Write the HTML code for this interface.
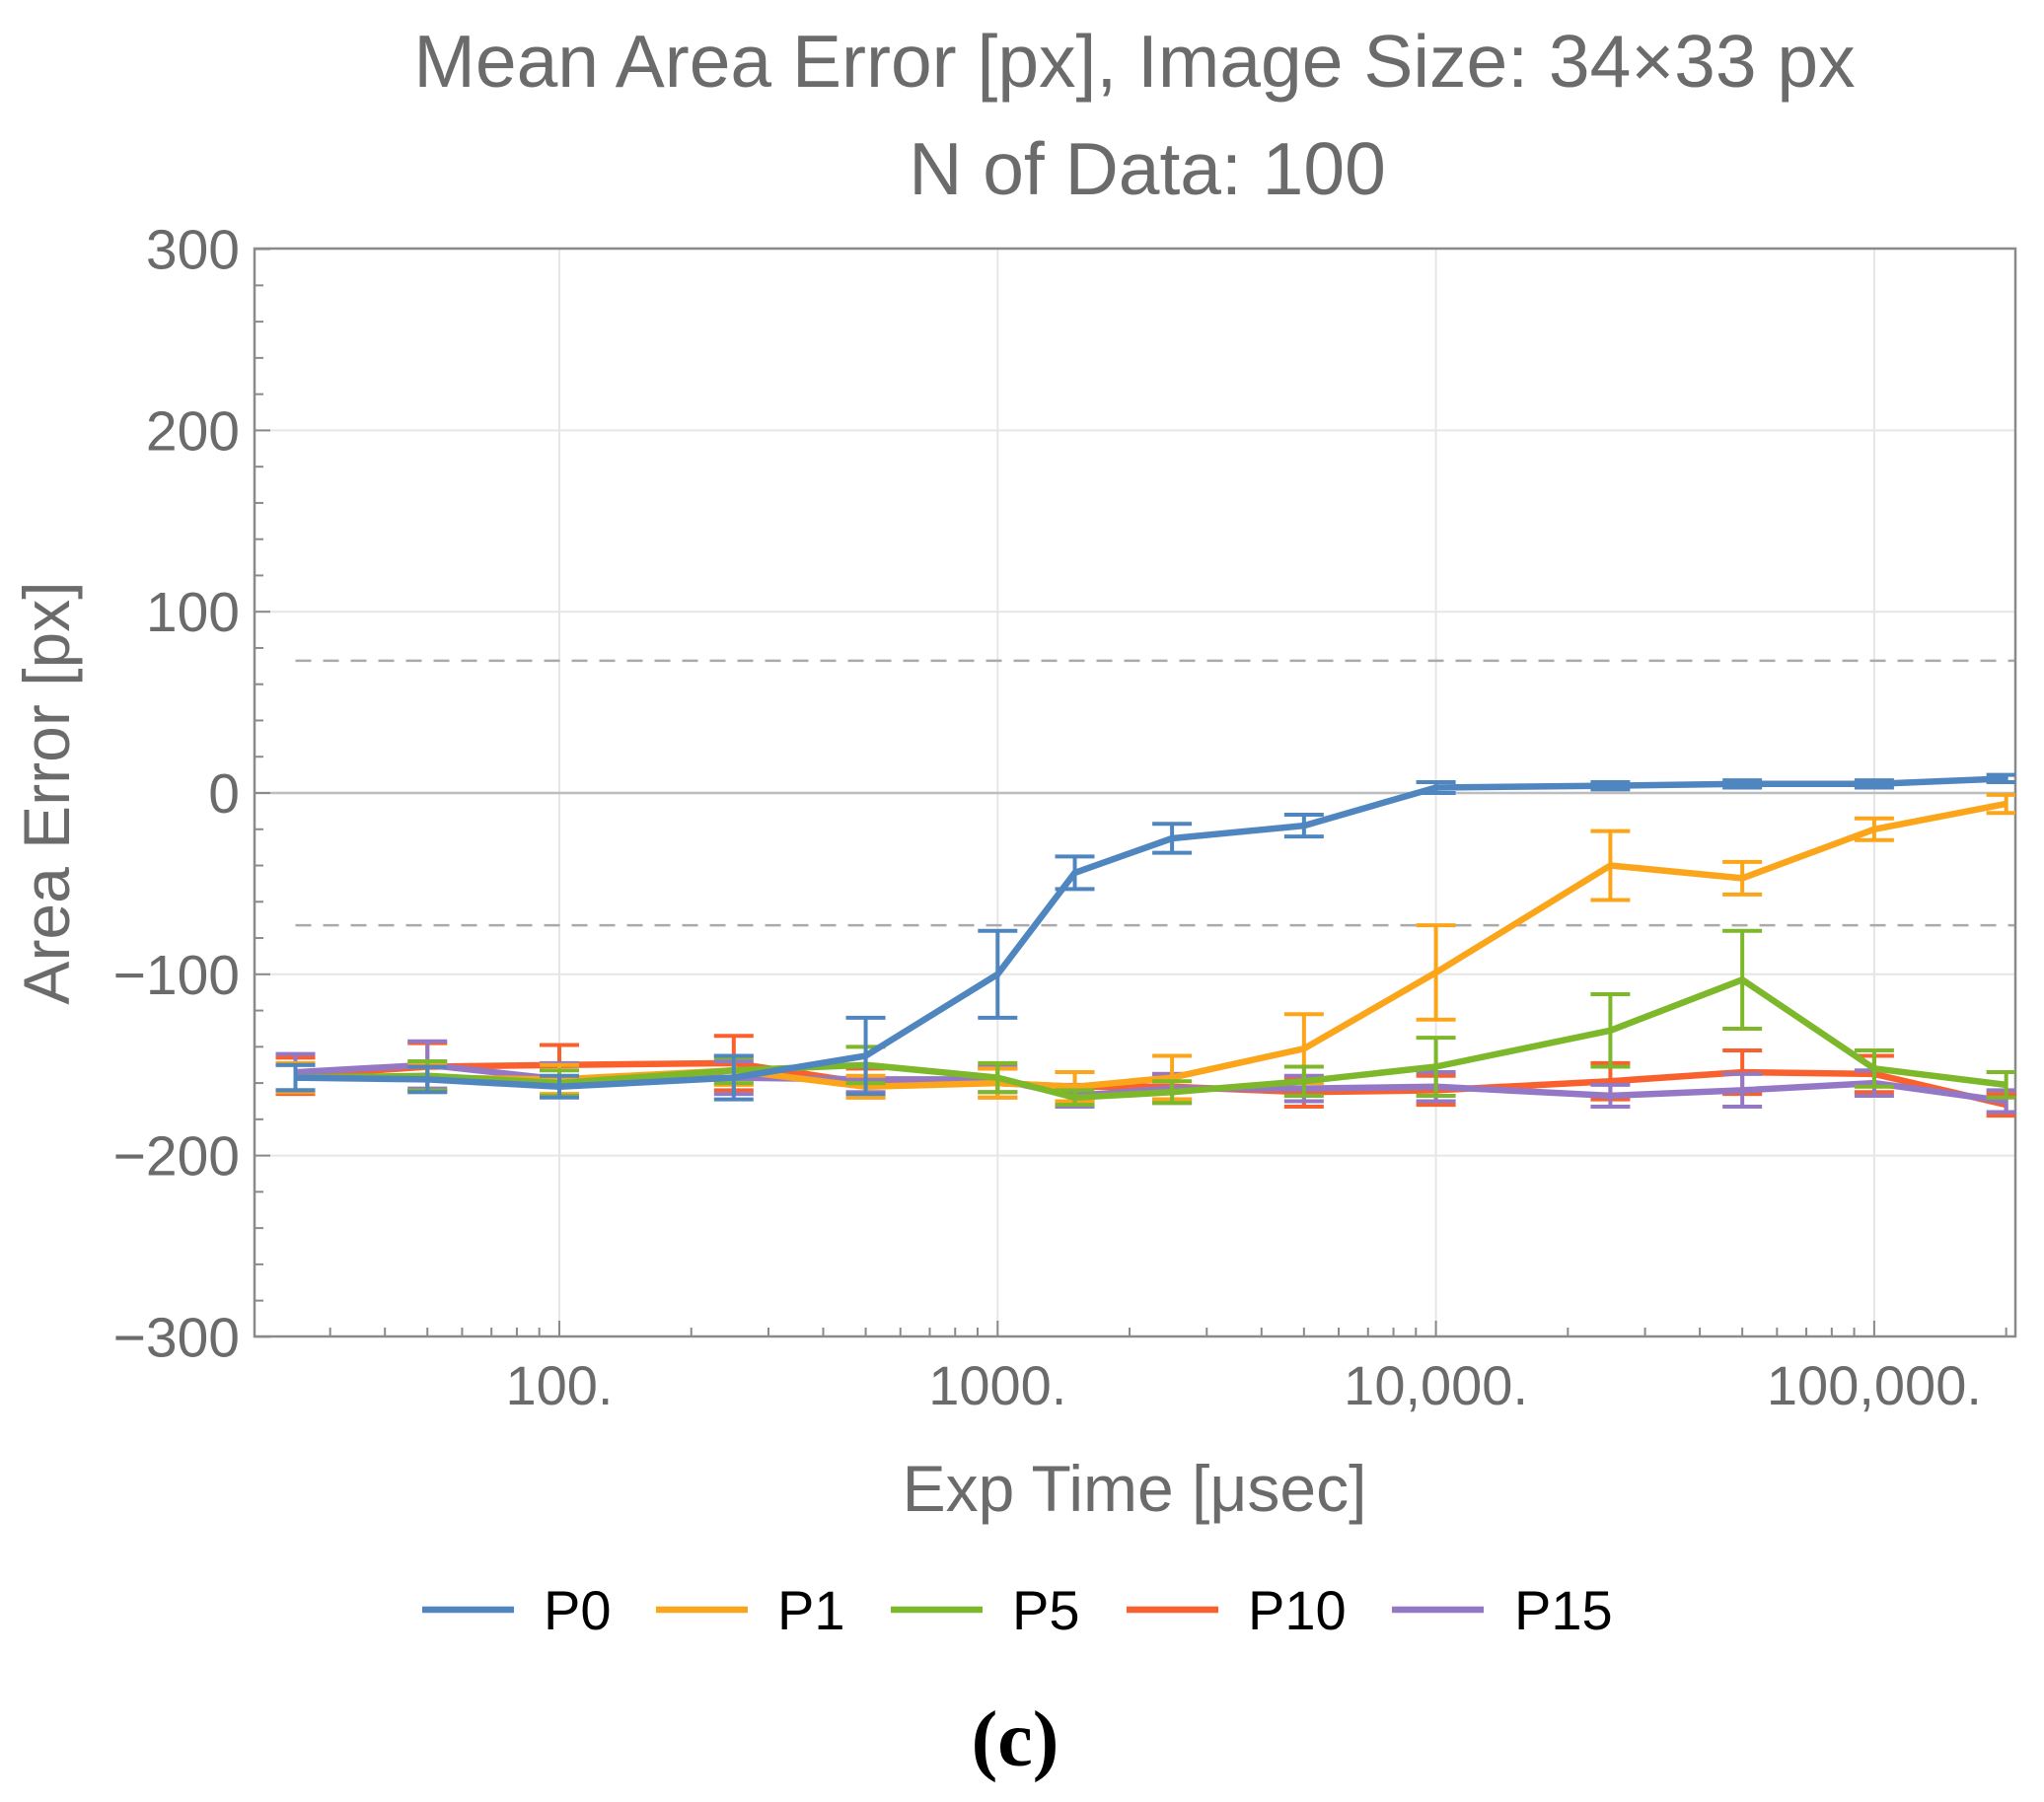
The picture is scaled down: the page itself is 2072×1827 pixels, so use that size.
<!DOCTYPE html>
<html><head><meta charset="utf-8"><style>
html,body{margin:0;padding:0;background:#fff;}
svg{display:block;}
</style></head><body>
<svg id="s" width="2072" height="1827" viewBox="0 0 2072 1827" xmlns="http://www.w3.org/2000/svg" font-family="Liberation Sans, sans-serif">
<rect width="2072" height="1827" fill="#fff"/>
<text x="1150" y="88" font-size="75" fill="#6b6b6b" text-anchor="middle">Mean Area Error [px], Image Size: 34×33 px</text>
<text x="1163" y="197" font-size="75" fill="#6b6b6b" text-anchor="middle">N of Data: 100</text>
<text x="1150" y="1532" font-size="66" fill="#6b6b6b" text-anchor="middle">Exp Time [μsec]</text>
<text transform="translate(70,804) rotate(-90)" font-size="66" fill="#6b6b6b" text-anchor="middle">Area Error [px]</text>
<text x="1029" y="1790" font-size="80" font-family="Liberation Serif, serif" font-weight="bold" fill="#000" text-anchor="middle">(c)</text>
<g id="g"></g>
</svg>
<script>
(function(){
var L=258,R=2043,T=252,B=1355;
function X(v){return 567+(Math.log10(v)-2)*444.3;}
function Y(v){return 804-v*1.838;}
var o='';
[100,1000,10000,100000].forEach(function(v){o+='<line x1="'+X(v)+'" y1="'+T+'" x2="'+X(v)+'" y2="'+B+'" stroke="#e6e6e6" stroke-width="2"/>';});
[-200,-100,100,200].forEach(function(v){o+='<line x1="'+L+'" y1="'+Y(v)+'" x2="'+R+'" y2="'+Y(v)+'" stroke="#e6e6e6" stroke-width="2"/>';});
o+='<line x1="'+L+'" y1="'+Y(0)+'" x2="'+R+'" y2="'+Y(0)+'" stroke="#bdbdbd" stroke-width="2.5"/>';
[73,-73].forEach(function(v){o+='<line x1="'+X(25)+'" y1="'+Y(v)+'" x2="'+R+'" y2="'+Y(v)+'" stroke="#aaa" stroke-width="2.5" stroke-dasharray="16,12"/>';});
o+='<rect x="'+L+'" y="'+T+'" width="'+(R-L)+'" height="'+(B-T)+'" fill="none" stroke="#8a8a8a" stroke-width="2.5"/>';
for(var v=-300;v<=300;v+=20){var big=v%100==0;o+='<line x1="'+L+'" y1="'+Y(v)+'" x2="'+(L+(big?16:9))+'" y2="'+Y(v)+'" stroke="#8a8a8a" stroke-width="2"/>';}
[300,200,100,0,-100,-200,-300].forEach(function(v){o+='<text x="243" y="'+(Y(v)+20)+'" font-size="57" fill="#6b6b6b" text-anchor="end">'+(v<0?'\u2212'+(-v):v)+'</text>';});
for(var d=10;d<=100000;d*=10){for(var k=1;k<10;k++){var xv=d*k;var x=X(xv);if(x<L||x>R)continue;var big=(k==1);o+='<line x1="'+x+'" y1="'+B+'" x2="'+x+'" y2="'+(B-(big?16:9))+'" stroke="#8a8a8a" stroke-width="2"/>';}}
[[100,'100.'],[1000,'1000.'],[10000,'10,000.'],[100000,'100,000.']].forEach(function(a){o+='<text x="'+X(a[0])+'" y="1424" font-size="56" fill="#6b6b6b" text-anchor="middle">'+a[1]+'</text>';});
var xs=[25,50,100,250,500,1000,1500,2500,5000,10000,25000,50000,100000,200000];
var S=[
{c:'#f9602d',v:[-156,-151,-150,-149,-160,-160,-162,-162,-165,-164,-159,-154,-155,-172],e:[10,13,11,15,8,8,8,7,8,8,10,12,10,6]},
{c:'#9478c6',v:[-154,-150,-158,-157,-158,-158,-167,-163,-163,-162,-167,-164,-160,-170],e:[10,13,9,9,7,7,6,8,7,8,6,9,7,6]},
{c:'#fba51a',v:[-157,-157,-158,-153,-162,-160,-162,-157,-141,-99,-40,-47,-20,-6],e:[8,8,8,8,6,8,8,12,19,26,19,9,6,5]},
{c:'#7cb82a',v:[-157,-156,-160,-153,-150,-157,-168,-165,-159,-151,-131,-103,-152,-161],e:[7,8,7,7,10,8,4,6,8,16,20,27,10,7]},
{c:'#4f86c0',v:[-157,-158,-162,-157,-145,-100,-44,-25,-18,3,4,5,5,8],e:[7,7,6,12,21,24,9,8,6,3,2,2,2,2]}
];
S.forEach(function(s){
 var p='';
 xs.forEach(function(xv,i){var x=X(xv),y=Y(s.v[i]);p+=(i?'L':'M')+x.toFixed(1)+' '+y.toFixed(1);
  var y1=Y(s.v[i]+s.e[i]),y2=Y(s.v[i]-s.e[i]);var x0=Math.max(L,x-20),x1=Math.min(R,x+20);
  o+='<path d="M'+x+' '+y1+'V'+y2+'M'+x0+' '+y1+'H'+x1+'M'+x0+' '+y2+'H'+x1+'" stroke="'+s.c+'" stroke-width="4" fill="none"/>';});
 o+='<path d="'+p+'" stroke="'+s.c+'" stroke-width="6.5" fill="none" stroke-linejoin="round"/>';
});
var lg=[['#4f86c0','P0',428,551],['#fba51a','P1',665,788],['#7cb82a','P5',903,1026],['#f9602d','P10',1142,1265],['#9478c6','P15',1411,1535]];
lg.forEach(function(a){o+='<line x1="'+a[2]+'" y1="1632" x2="'+(a[2]+93)+'" y2="1632" stroke="'+a[0]+'" stroke-width="6.5"/>';o+='<text x="'+a[3]+'" y="1652" font-size="56" fill="#000">'+a[1]+'</text>';});
document.getElementById('g').innerHTML=o;
})();
</script>
</body></html>
